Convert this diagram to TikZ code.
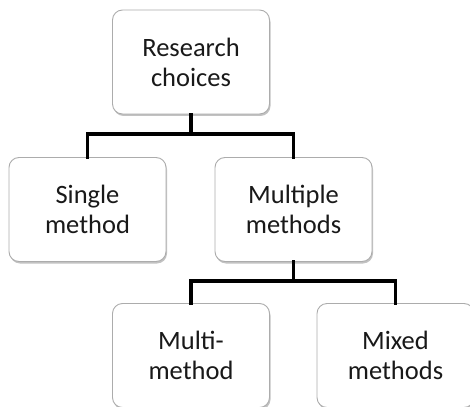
\documentclass[tikz,border=0pt]{standalone}
\usepackage{fontspec}
\setmainfont{Carlito}
\usetikzlibrary{shadows}
\begin{document}
\begin{tikzpicture}[x=1pt,y=1pt,
  box/.style={draw=gray!65, line width=0.9pt, fill=white, rounded corners=10pt,
    minimum width=157pt, minimum height=104pt, align=center,
    font=\fontsize{26.5}{30}\selectfont, text=black!90,
    drop shadow={shadow xshift=1pt, shadow yshift=-2pt, opacity=0.4, fill=black!60}},
  conn/.style={line width=3.5pt, line join=miter, line cap=rect}]
\useasboundingbox (0,0) rectangle (470,-406);
\clip (0,0) rectangle (470,-406);
\node[box] (top) at (191,-62) {Research\\choices};
\node[box] (single) at (87.5,-209.5) {Single\\method};
\node[box] (multiple) at (293.5,-209.5) {Multiple\\methods};
\node[box] (mm) at (191,-355.5) {Multi-\\method};
\node[box] (mixed) at (395.5,-355.5) {Mixed\\methods};
\coordinate (bus1) at (191,-134);
\coordinate (bus2) at (293.5,-281);
\draw[conn] (top.south) -- (bus1);
\draw[conn] (single.north) |- (bus1) -| (multiple.north);
\draw[conn] (multiple.south) -- (bus2);
\draw[conn] (mm.north) |- (bus2) -| (mixed.north);
\end{tikzpicture}
\end{document}
